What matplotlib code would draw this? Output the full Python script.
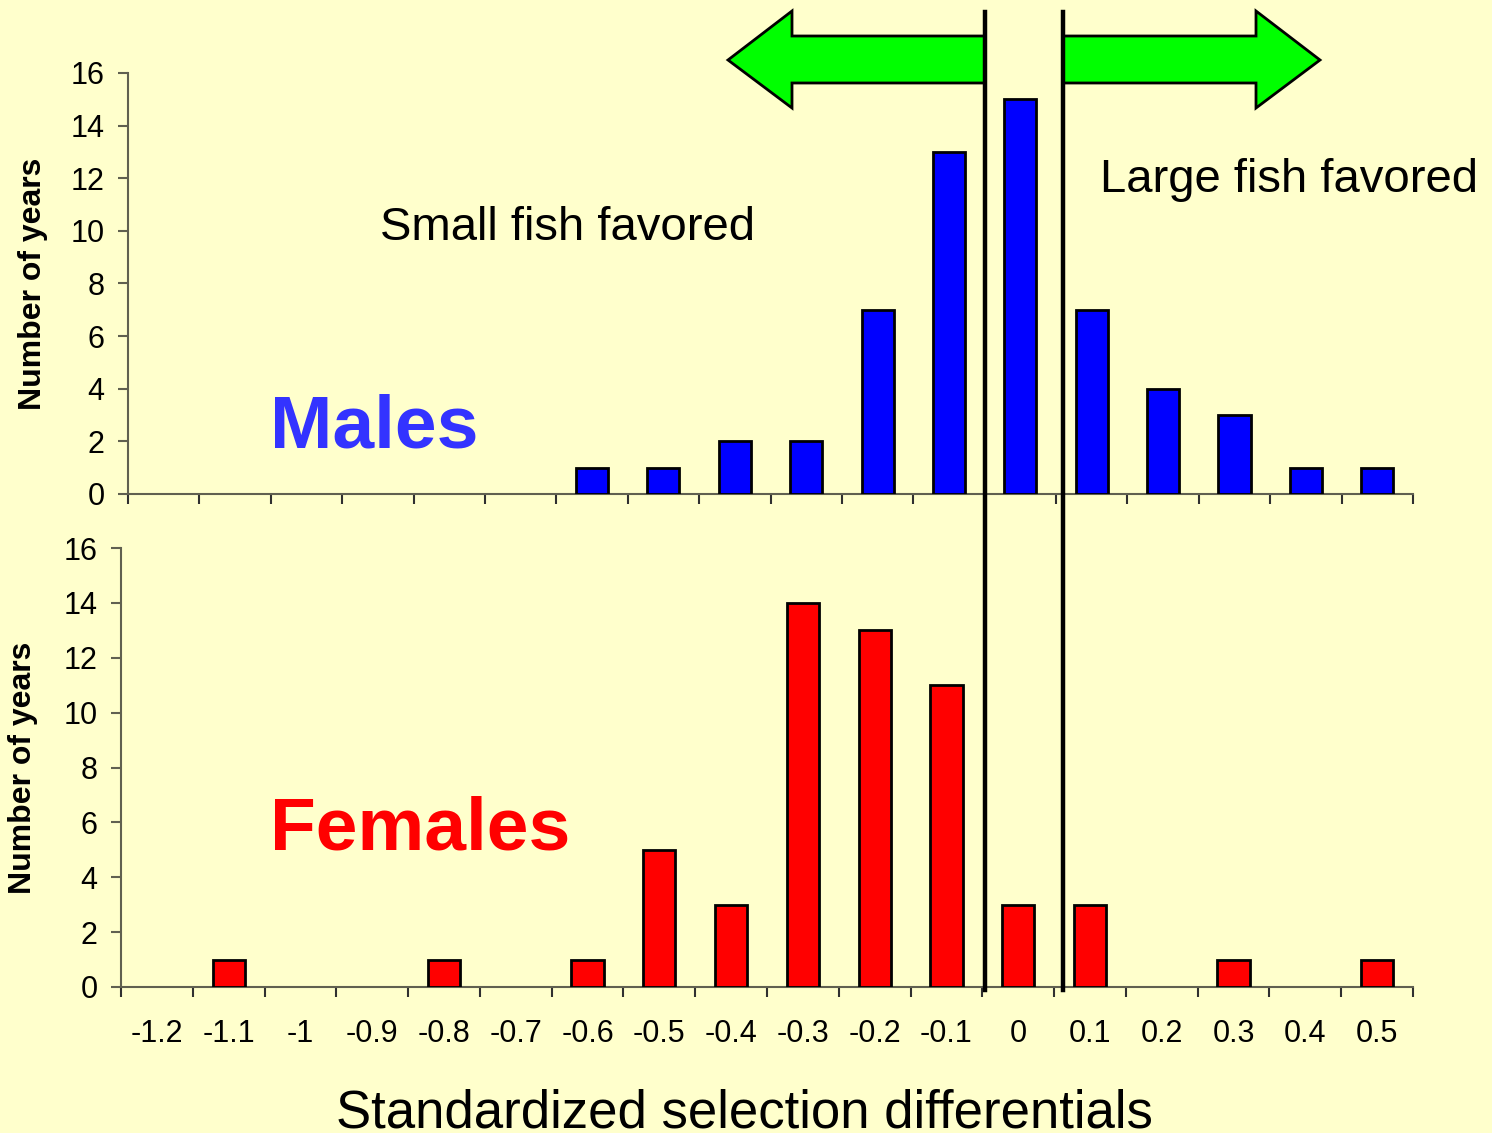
import matplotlib
matplotlib.use("Agg")
import matplotlib.pyplot as plt
from matplotlib.patches import Polygon
from matplotlib.lines import Line2D
import numpy as np

plt.rcParams['font.family'] = ['Liberation Sans', 'DejaVu Sans']

# selection differential classes and counts of years
classes = ['-1.2', '-1.1', '-1', '-0.9', '-0.8', '-0.7', '-0.6', '-0.5', '-0.4',
           '-0.3', '-0.2', '-0.1', '0', '0.1', '0.2', '0.3', '0.4', '0.5']
males = [0, 0, 0, 0, 0, 0, 1, 1, 2, 2, 7, 13, 15, 7, 4, 3, 1, 1]
females = [0, 1, 0, 0, 1, 0, 1, 5, 3, 14, 13, 11, 3, 3, 0, 1, 0, 1]

bg = '#FFFFCC'
W, H = 1492, 1133
fig = plt.figure(figsize=(W / 100, H / 100), dpi=100, facecolor=bg)

def px(x0, y0, x1, y1):
    # pixel box (from top-left) -> axes rect in figure fractions
    return [x0 / W, 1 - y1 / H, (x1 - x0) / W, (y1 - y0) / H]

ax1 = fig.add_axes(px(128, 73, 1413, 494))
ax2 = fig.add_axes(px(121, 548, 1413, 987))

x = np.arange(len(classes))
for ax, vals, col in [(ax1, males, '#0000FF'), (ax2, females, '#FF0000')]:
    ax.set_facecolor(bg)
    bars = ax.bar(x, vals, width=0.45, color=col, edgecolor='black', linewidth=2, zorder=3)
    for b, v in zip(bars, vals):
        if v == 0:
            b.set_visible(False)
    ax.set_xlim(-0.5, len(classes) - 0.5)
    ax.set_ylim(0, 16)
    ax.set_yticks(range(0, 17, 2))
    for s in ['top', 'right']:
        ax.spines[s].set_visible(False)
    for s in ['left', 'bottom']:
        ax.spines[s].set_color('#606050')
        ax.spines[s].set_linewidth(1.5)
    ax.set_xticks(x)
    ax.set_xticks(np.arange(-0.5, len(classes)), minor=True)
    ax.tick_params(axis='x', which='major', length=0, labelsize=22, pad=23)
    ax.tick_params(axis='x', which='minor', length=7, width=1.5, color='#303030')
    ax.tick_params(axis='y', length=7, width=1.5, color='#606050', labelsize=22, pad=10)
    ax.set_ylabel('Number of years', fontsize=23, fontweight='bold')

ax1.set_xticklabels([])
ax2.set_xticklabels(classes)
ax1.yaxis.set_label_coords(-0.062, 0.5)
ax2.yaxis.set_label_coords(-0.064, 0.5)

fig.text(744 / W, 1 - 1127 / H, 'Standardized selection differentials',
         fontsize=38, ha='center', va='baseline')

fig.text(270 / W, 1 - 448 / H, 'Males', fontsize=54, fontweight='bold',
         color='#3333FF', va='baseline')
fig.text(270 / W, 1 - 850 / H, 'Females', fontsize=54, fontweight='bold',
         color='#FF0000', va='baseline')

fig.text(380 / W, 1 - 228 / H, 'Small fish favored', fontsize=34, va='center')
fig.text(1100 / W, 1 - 180 / H, 'Large fish favored', fontsize=34, va='center')

def figpt(pts):
    return [(a / W, 1 - b / H) for a, b in pts]

# direction arrows
left_arrow = [(985, 36), (792, 36), (792, 11), (728, 60), (792, 108), (792, 83), (985, 83)]
right_arrow = [(1063, 36), (1256, 36), (1256, 11), (1320, 60), (1256, 108), (1256, 83), (1063, 83)]
for shape in (left_arrow, right_arrow):
    fig.patches.append(Polygon(figpt(shape), closed=True, facecolor='#00FF00',
                               edgecolor='black', linewidth=2,
                               transform=fig.transFigure, zorder=5))

# divider lines around zero
for xp in (985, 1063):
    fig.lines.append(Line2D([xp / W, xp / W], [1 - 12 / H, 1 - 990 / H],
                            color='black', linewidth=3.2,
                            transform=fig.transFigure, zorder=6))

fig.savefig('out.png', dpi=100, facecolor=bg)
